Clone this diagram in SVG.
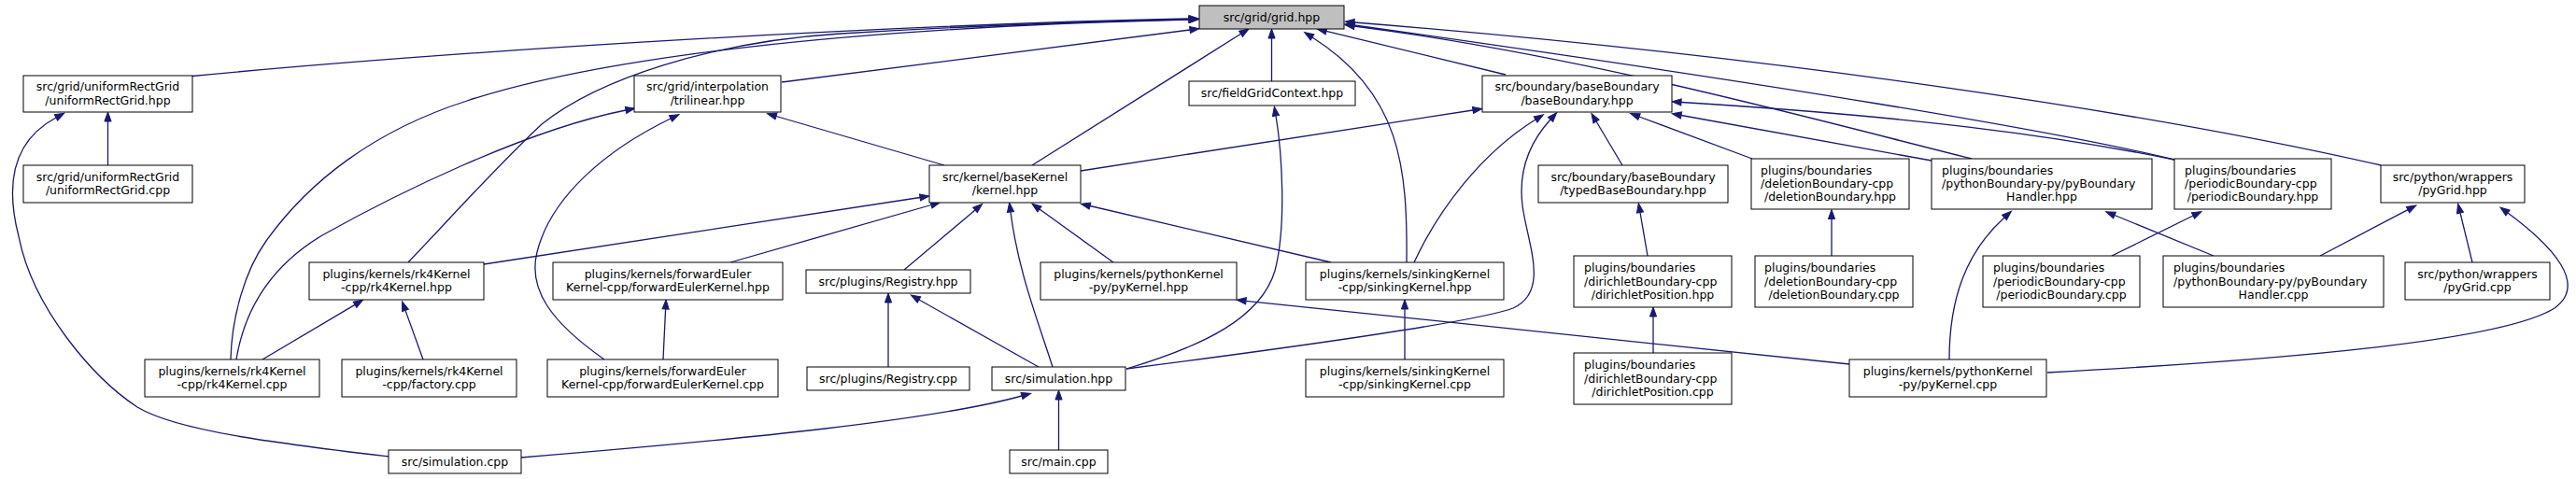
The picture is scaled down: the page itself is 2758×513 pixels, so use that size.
<svg xmlns="http://www.w3.org/2000/svg" width="2758" height="513" viewBox="0 0 2758 513">
<style>
.n rect{fill:#fff;stroke:#000;stroke-width:1}
.n text{font-family:"DejaVu Sans","Liberation Sans",sans-serif;font-size:12.5px;fill:#000;text-anchor:middle}
.n text.l{text-anchor:start}
.e path{fill:none;stroke:#191970;stroke-width:1.3;marker-end:url(#ah)}
</style>
<defs>
<marker id="ah" markerWidth="11" markerHeight="8" refX="0" refY="3.6" orient="auto" markerUnits="userSpaceOnUse" overflow="visible">
<path d="M0,0 L10,3.6 L0,7.2 z" fill="#191970" stroke="#191970" stroke-width="1"/>
</marker>
</defs>
<rect width="2758" height="513" fill="#fff"/>
<g class="e" id="edges">
<path d="M206,81.5 C450,58 900,28 1273,20"/>
<path d="M247,385 C248,340 262,290 285,258 C330,195 400,140 500,108 C640,62 900,30 1273,21"/>
<path d="M437,281 C480,236 530,180 580,133 C640,85 760,45 900,36 C1050,27 1200,22 1273,21"/>
<path d="M837,88 L1274,32"/>
<path d="M1105,177 L1328.5,36.3"/>
<path d="M1361.5,87 L1361.5,41"/>
<path d="M1506,281 C1507,180 1500,100 1405,40"/>
<path d="M1612,80 L1420,33.4"/>
<path d="M2111,170 C1950,130 1700,60 1450,28"/>
<path d="M2328,171 C2200,140 1900,90 1450,27"/>
<path d="M2549,177 C2300,120 1900,60 1450,24"/>
<path d="M253,385 C262,330 290,285 345,252 C420,210 560,140 670,118"/>
<path d="M647,385 C590,345 565,310 575,270 C590,210 650,160 718,127"/>
<path d="M1011,177 L831,124.5"/>
<path d="M115.5,177 L115.5,130"/>
<path d="M416,489 C300,475 190,462 147,436 C100,405 35,330 20,253 C5,195 15,150 60,126"/>
<path d="M1157,183 L1577,118"/>
<path d="M1206,395 C1290,370 1350,340 1365,290 C1378,240 1372,160 1366,124"/>
<path d="M1514,281 C1540,225 1585,165 1644,128"/>
<path d="M1206,395 C1400,370 1580,345 1620,330 C1660,312 1635,260 1630,220 C1625,180 1640,150 1660,128"/>
<path d="M1737,177 L1709,130"/>
<path d="M1876,170 L1755,125"/>
<path d="M2328,171 C2200,145 2050,125 1800,109.5"/>
<path d="M2068,172 L1800,123.5"/>
<path d="M1764,274 L1756,227.5"/>
<path d="M1770,378 L1770,339"/>
<path d="M1961,274 L1961,234.5"/>
<path d="M2087,385 C2087,320 2105,270 2146,233"/>
<path d="M2370,274 L2264,230.5"/>
<path d="M2261,274 L2348,231"/>
<path d="M2484,274 L2578,224.6"/>
<path d="M2647,281 L2634,228"/>
<path d="M2192,399 C2450,385 2680,365 2735,330 C2770,305 2735,265 2685,228"/>
<path d="M518,283 L985,211.5"/>
<path d="M782,281 L997,219.5"/>
<path d="M968,289 L1044,225"/>
<path d="M1127,393 C1110,340 1090,290 1082,227"/>
<path d="M1192,281 L1113,224"/>
<path d="M1425,281 L1167,220.5"/>
<path d="M558,490 C800,470 1000,450 1094,424"/>
<path d="M1133.5,482 L1133.5,428"/>
<path d="M951,393 L951,324"/>
<path d="M1112,393 L984,321"/>
<path d="M1980,390 L1334,322.3"/>
<path d="M281,385 L380,326.4"/>
<path d="M453,385 L434,332.4"/>
<path d="M710,385 L712.6,331"/>
<path d="M1504,385 L1504,331"/>
</g>
<g class="n" id="grid"><rect x="1284" y="6" width="155" height="25" style="fill:#bfbfbf"/><text x="1361.5" y="22.5">src/grid/grid.hpp</text></g>
<g class="n" id="uRGhpp"><rect x="25" y="81" width="181" height="39"/><text x="115.5" y="97.3">src/grid/uniformRectGrid</text><text x="115.5" y="111.7">/uniformRectGrid.hpp</text></g>
<g class="n" id="uRGcpp"><rect x="25" y="177" width="181" height="40"/><text x="115.5" y="193.8">src/grid/uniformRectGrid</text><text x="115.5" y="208.2">/uniformRectGrid.cpp</text></g>
<g class="n" id="trilinear"><rect x="679" y="81" width="157" height="39"/><text x="757.5" y="97.3">src/grid/interpolation</text><text x="757.5" y="111.7">/trilinear.hpp</text></g>
<g class="n" id="fieldGridContext"><rect x="1273" y="87" width="178" height="26"/><text x="1362" y="104">src/fieldGridContext.hpp</text></g>
<g class="n" id="baseBoundary"><rect x="1587" y="81" width="203" height="39"/><text x="1688.5" y="97.3">src/boundary/baseBoundary</text><text x="1688.5" y="111.7">/baseBoundary.hpp</text></g>
<g class="n" id="kernel"><rect x="995" y="177" width="162" height="40"/><text x="1076" y="193.8">src/kernel/baseKernel</text><text x="1076" y="208.2">/kernel.hpp</text></g>
<g class="n" id="typedBaseBoundary"><rect x="1647" y="177" width="203" height="40"/><text x="1748.5" y="193.8">src/boundary/baseBoundary</text><text x="1748.5" y="208.2">/typedBaseBoundary.hpp</text></g>
<g class="n" id="deletionBoundaryHpp"><rect x="1875" y="170" width="169" height="54"/><text class="l" x="1885" y="186.6">plugins/boundaries</text><text class="l" x="1885" y="201">/deletionBoundary-cpp</text><text x="1959.5" y="215.4">/deletionBoundary.hpp</text></g>
<g class="n" id="pyBoundaryHandlerHpp"><rect x="2068" y="170" width="236" height="54"/><text class="l" x="2079" y="186.6">plugins/boundaries</text><text class="l" x="2079" y="201">/pythonBoundary-py/pyBoundary</text><text x="2186" y="215.4">Handler.hpp</text></g>
<g class="n" id="periodicBoundaryHpp"><rect x="2328" y="170" width="168" height="54"/><text class="l" x="2339" y="186.6">plugins/boundaries</text><text class="l" x="2339" y="201">/periodicBoundary-cpp</text><text x="2412" y="215.4">/periodicBoundary.hpp</text></g>
<g class="n" id="pyGridHpp"><rect x="2549" y="177" width="154" height="40"/><text x="2626" y="193.8">src/python/wrappers</text><text x="2626" y="208.2">/pyGrid.hpp</text></g>
<g class="n" id="rk4KernelHpp"><rect x="331" y="281" width="187" height="40"/><text x="424.5" y="297.8">plugins/kernels/rk4Kernel</text><text x="424.5" y="312.2">-cpp/rk4Kernel.hpp</text></g>
<g class="n" id="forwardEulerKernelHpp"><rect x="592" y="281" width="246" height="40"/><text x="715" y="297.8">plugins/kernels/forwardEuler</text><text x="715" y="312.2">Kernel-cpp/forwardEulerKernel.hpp</text></g>
<g class="n" id="RegistryHpp"><rect x="863" y="289" width="176" height="25"/><text x="951" y="305.5">src/plugins/Registry.hpp</text></g>
<g class="n" id="pyKernelHpp"><rect x="1114" y="281" width="210" height="40"/><text x="1219" y="297.8">plugins/kernels/pythonKernel</text><text x="1219" y="312.2">-py/pyKernel.hpp</text></g>
<g class="n" id="sinkingKernelHpp"><rect x="1398" y="281" width="212" height="40"/><text x="1504" y="297.8">plugins/kernels/sinkingKernel</text><text x="1504" y="312.2">-cpp/sinkingKernel.hpp</text></g>
<g class="n" id="dirichletPositionHpp"><rect x="1685" y="274" width="169" height="55"/><text class="l" x="1696" y="291.1">plugins/boundaries</text><text class="l" x="1696" y="305.5">/dirichletBoundary-cpp</text><text x="1769.5" y="319.9">/dirichletPosition.hpp</text></g>
<g class="n" id="deletionBoundaryCpp"><rect x="1879" y="274" width="169" height="55"/><text class="l" x="1889" y="291.1">plugins/boundaries</text><text class="l" x="1889" y="305.5">/deletionBoundary-cpp</text><text x="1963.5" y="319.9">/deletionBoundary.cpp</text></g>
<g class="n" id="periodicBoundaryCpp"><rect x="2123" y="274" width="168" height="55"/><text class="l" x="2134" y="291.1">plugins/boundaries</text><text class="l" x="2134" y="305.5">/periodicBoundary-cpp</text><text x="2207" y="319.9">/periodicBoundary.cpp</text></g>
<g class="n" id="pyBoundaryHandlerCpp"><rect x="2316" y="274" width="236" height="55"/><text class="l" x="2327" y="291.1">plugins/boundaries</text><text class="l" x="2327" y="305.5">/pythonBoundary-py/pyBoundary</text><text x="2434" y="319.9">Handler.cpp</text></g>
<g class="n" id="pyGridCpp"><rect x="2575" y="281" width="155" height="40"/><text x="2652.5" y="297.8">src/python/wrappers</text><text x="2652.5" y="312.2">/pyGrid.cpp</text></g>
<g class="n" id="rk4KernelCpp"><rect x="155" y="385" width="187" height="40"/><text x="248.5" y="401.8">plugins/kernels/rk4Kernel</text><text x="248.5" y="416.2">-cpp/rk4Kernel.cpp</text></g>
<g class="n" id="factoryCpp"><rect x="366" y="385" width="187" height="40"/><text x="459.5" y="401.8">plugins/kernels/rk4Kernel</text><text x="459.5" y="416.2">-cpp/factory.cpp</text></g>
<g class="n" id="forwardEulerKernelCpp"><rect x="586" y="385" width="247" height="40"/><text x="709.5" y="401.8">plugins/kernels/forwardEuler</text><text x="709.5" y="416.2">Kernel-cpp/forwardEulerKernel.cpp</text></g>
<g class="n" id="RegistryCpp"><rect x="864" y="393" width="174" height="25"/><text x="951" y="409.5">src/plugins/Registry.cpp</text></g>
<g class="n" id="simulationHpp"><rect x="1062" y="393" width="143" height="25"/><text x="1133.5" y="409.5">src/simulation.hpp</text></g>
<g class="n" id="sinkingKernelCpp"><rect x="1398" y="385" width="212" height="40"/><text x="1504" y="401.8">plugins/kernels/sinkingKernel</text><text x="1504" y="416.2">-cpp/sinkingKernel.cpp</text></g>
<g class="n" id="dirichletPositionCpp"><rect x="1685" y="378" width="169" height="55"/><text class="l" x="1696" y="395.1">plugins/boundaries</text><text class="l" x="1696" y="409.5">/dirichletBoundary-cpp</text><text x="1769.5" y="423.9">/dirichletPosition.cpp</text></g>
<g class="n" id="pyKernelCpp"><rect x="1980" y="385" width="211" height="40"/><text x="2085.5" y="401.8">plugins/kernels/pythonKernel</text><text x="2085.5" y="416.2">-py/pyKernel.cpp</text></g>
<g class="n" id="simulationCpp"><rect x="416" y="482" width="142" height="25"/><text x="487" y="498.5">src/simulation.cpp</text></g>
<g class="n" id="mainCpp"><rect x="1081" y="482" width="105" height="25"/><text x="1133.5" y="498.5">src/main.cpp</text></g>
</svg>
